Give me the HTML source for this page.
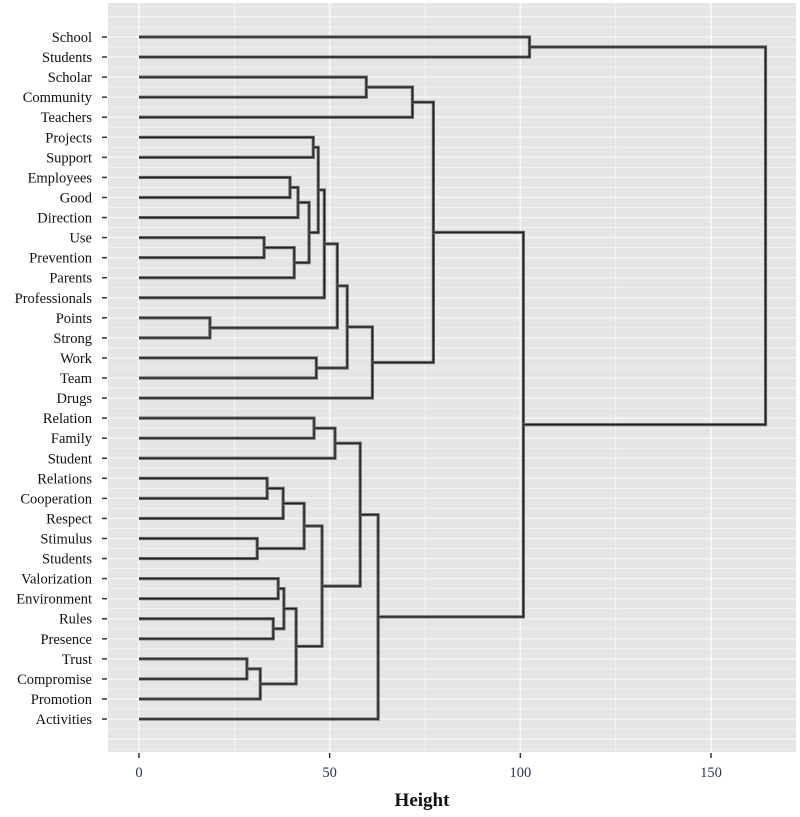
<!DOCTYPE html>
<html><head><meta charset="utf-8"><style>
body{margin:0;background:#fff;}
svg{display:block;font-family:"Liberation Serif",serif;}
</style></head><body>
<svg id="chart" width="800" height="817">
<rect x="108" y="3" width="688" height="749" fill="#e5e5e5"/>
<g id="grid"></g><g id="tree"></g><g id="axes"></g>
<text x="422" y="806" text-anchor="middle" font-size="19" font-weight="bold" fill="#111">Height</text>
</svg>
<script>
const labels=["School","Students","Scholar","Community","Teachers","Projects","Support","Employees","Good","Direction","Use","Prevention","Parents","Professionals","Points","Strong","Work","Team","Drugs","Relation","Family","Student","Relations","Cooperation","Respect","Stimulus","Students","Valorization","Environment","Rules","Presence","Trust","Compromise","Promotion","Activities"];
const leftChild=["L14","L31","L25","M1","L10","L22","L29","L27","L7","M5","M7","M4","M10","M8","M9","M13","L5","L19","L16","M16","M14","M19","M17","M21","M23","M22","L2","M24","M25","M26","M29","M30","L0","M32"];
const rightChild=["L15","L32","L26","L33","L11","L23","L30","L28","L8","L24","M6","L12","M3","L9","M2","M11","L6","L20","L17","M15","M12","L13","L21","M0","M18","M20","L3","L18","L34","L4","M27","M28","L1","M31"];
const heights=[18.6,28.3,31,31.8,32.8,33.6,35.2,36.5,39.6,37.8,38,40.7,41.2,41.7,43.3,44.6,45.7,45.9,46.5,47,48,48.6,51.4,52,54.6,58,59.6,61.2,62.7,71.7,77.2,100.8,102.4,164.3];
const xTicks=[0,50,100,150];

const NS="http://www.w3.org/2000/svg";
const x=v=>139+v*3.8134;
const y=i=>37+i*20.06;
function mk(tag,attrs,parent){const e=document.createElementNS(NS,tag);for(const k in attrs)e.setAttribute(k,attrs[k]);parent.appendChild(e);return e;}
const grid=document.getElementById('grid'),tree=document.getElementById('tree'),axes=document.getElementById('axes');
// horizontal grid
for(let k=-3;k<=2*labels.length+2;k++){const yy=y(0)+k*10.03;if(yy<4||yy>751)continue;
 const l=mk('line',{x1:108,x2:796,y1:yy,y2:yy,stroke:'#f4f4f4','stroke-width':k%2===0?1.6:0.8},grid);
 }
// vertical grid
for(let v=-25;v<=175;v+=25){const xx=x(v);if(xx<108||xx>796)continue;
 const l=mk('line',{x1:xx,x2:xx,y1:3,y2:752,stroke:'#f7f7f7','stroke-width':v%50===0?1.6:0.8},grid);
 }
// tree
const pos={};
labels.forEach((_,i)=>{pos['L'+i]={yy:y(i),h:0};});
function seg(d){
 const a=mk('path',{d:d,fill:'none',stroke:'#6a6a6a','stroke-width':3.2},tree);
 
 const b=mk('path',{d:d,fill:'none',stroke:'#222','stroke-width':1.3},tree);
 
}
heights.forEach((h,m)=>{
 const a=pos[leftChild[m]],b=pos[rightChild[m]];
 seg(`M${x(a.h)},${a.yy}H${x(h)}V${b.yy}H${x(b.h)}`);
 pos['M'+m]={yy:(a.yy+b.yy)/2,h:h};
});
// y labels
labels.forEach((t,i)=>{
 const tx=mk('text',{x:92,y:y(i)+5,'text-anchor':'end','font-size':14.5,fill:'#111'},axes);tx.textContent=t;
 
 const tk=mk('line',{x1:102,x2:107,y1:y(i),y2:y(i),stroke:'#333','stroke-width':1.5},axes);
 
});
xTicks.forEach(v=>{
 const tk=mk('line',{x1:x(v),x2:x(v),y1:753,y2:758,stroke:'#333','stroke-width':1.5},axes);
 
 const tx=mk('text',{x:x(v),y:777,'text-anchor':'middle','font-size':14.5,fill:'#2a3550'},axes);tx.textContent=v;
 
});
</script>
</body></html>
